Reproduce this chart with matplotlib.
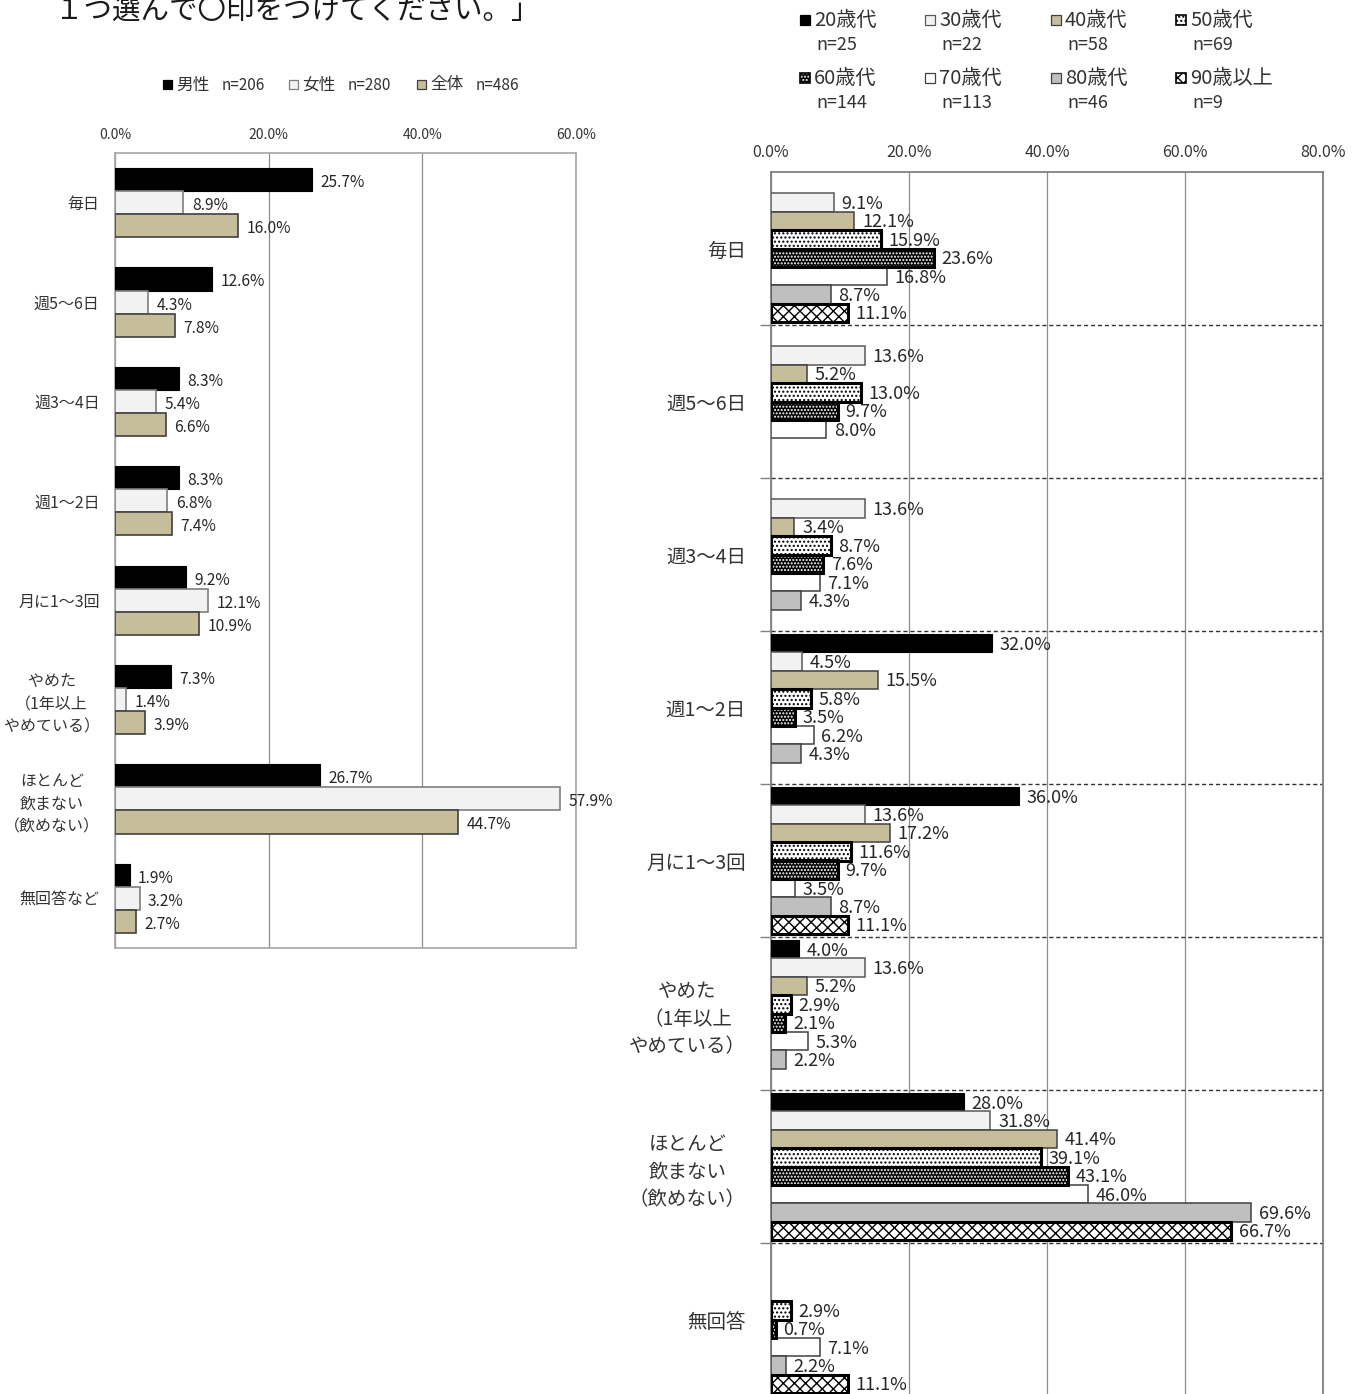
import numpy as np
import matplotlib
matplotlib.use("Agg")
import matplotlib.pyplot as plt
from matplotlib.patches import Rectangle

plt.rcParams['font.family'] = ['Noto Sans CJK JP', 'DejaVu Sans']
plt.rcParams['hatch.linewidth'] = 1.0

W, H, DPI = 1363, 1394, 100
nan = np.nan

title_text = "１つ選んで〇印をつけてください。」"

cats_left = ["毎日", "週5〜6日", "週3〜4日", "週1〜2日", "月に1〜3回",
             "やめた\n（1年以上\nやめている）", "ほとんど\n飲まない\n（飲めない）", "無回答など"]
cats_right = ["毎日", "週5〜6日", "週3〜4日", "週1〜2日", "月に1〜3回",
              "やめた\n（1年以上\nやめている）", "ほとんど\n飲まない\n（飲めない）", "無回答"]

gender_names = ["男性", "女性", "全体"]
gender_n = ["n=206", "n=280", "n=486"]
male = [25.7, 12.6, 8.3, 8.3, 9.2, 7.3, 26.7, 1.9]
female = [8.9, 4.3, 5.4, 6.8, 12.1, 1.4, 57.9, 3.2]
total = [16.0, 7.8, 6.6, 7.4, 10.9, 3.9, 44.7, 2.7]

age_names = ["20歳代", "30歳代", "40歳代", "50歳代", "60歳代", "70歳代", "80歳代", "90歳以上"]
age_n = ["n=25", "n=22", "n=58", "n=69", "n=144", "n=113", "n=46", "n=9"]
age20 = [nan, nan, nan, 32.0, 36.0, 4.0, 28.0, nan]
age30 = [9.1, 13.6, 13.6, 4.5, 13.6, 13.6, 31.8, nan]
age40 = [12.1, 5.2, 3.4, 15.5, 17.2, 5.2, 41.4, nan]
age50 = [15.9, 13.0, 8.7, 5.8, 11.6, 2.9, 39.1, 2.9]
age60 = [23.6, 9.7, 7.6, 3.5, 9.7, 2.1, 43.1, 0.7]
age70 = [16.8, 8.0, 7.1, 6.2, 3.5, 5.3, 46.0, 7.1]
age80 = [8.7, nan, 4.3, 4.3, 8.7, 2.2, 69.6, 2.2]
age90 = [11.1, nan, nan, nan, 11.1, nan, 66.7, 11.1]

left_ticks = [0, 20, 40, 60]
right_ticks = [0, 20, 40, 60, 80]

TAN = '#c6bd9a'
gender_styles = [
    dict(face='black', edge='black', lw=0.8, hatch=None, hcol=None, outline=None),
    dict(face='#f2f2f2', edge='#7f7f7f', lw=1.2, hatch=None, hcol=None, outline=None),
    dict(face=TAN, edge='#404040', lw=1.2, hatch=None, hcol=None, outline=None),
]
age_styles = [
    dict(face='black', edge='black', lw=0.8, hatch=None, hcol=None, outline=None),
    dict(face='#f2f2f2', edge='#595959', lw=1.1, hatch=None, hcol=None, outline=None),
    dict(face=TAN, edge='#404040', lw=1.1, hatch=None, hcol=None, outline=None),
    dict(face='white', edge='black', lw=2.2, hatch='....', hcol='black', outline='black'),
    dict(face='black', edge='black', lw=2.2, hatch='.....', hcol='white', outline='black'),
    dict(face='white', edge='#404040', lw=1.1, hatch=None, hcol=None, outline=None),
    dict(face='#bfbfbf', edge='#404040', lw=1.1, hatch=None, hcol=None, outline=None),
    dict(face='white', edge='black', lw=2.2, hatch='xxx', hcol='black', outline='black'),
]


def fx(x):
    return x / W


def fy(y):
    return 1 - y / H


def draw_bars(ax, ypos, vals, st, h):
    vals = np.asarray(vals, dtype=float)
    ok = np.isfinite(vals)
    yp = np.asarray(ypos)[ok]
    vv = vals[ok]
    if st['hatch'] is None:
        ax.barh(yp, vv, height=h, color=st['face'], edgecolor=st['edge'],
                linewidth=st['lw'], zorder=3)
    else:
        ax.barh(yp, vv, height=h, color=st['face'], edgecolor=st['hcol'],
                hatch=st['hatch'], linewidth=0, zorder=3)
        ax.barh(yp, vv, height=h, fill=False, edgecolor=st['outline'],
                linewidth=st['lw'], zorder=4)
    return yp, vv


fig = plt.figure(figsize=(W / DPI, H / DPI), dpi=DPI)

# ---------------- Left panel (gender) ----------------
axL = fig.add_axes([fx(115), fy(948), fx(576 - 115), (948 - 153) / H])
nL = len(cats_left)
yL = np.arange(nL)
bhL = 0.232
for i, (vals, st) in enumerate(zip([male, female, total], gender_styles)):
    off = (i - 1) * bhL
    yp, vv = draw_bars(axL, yL + off, vals, st, bhL)
    for yy, v in zip(yp, vv):
        axL.text(v + 1.1, yy + 0.03, f"{v:.1f}%", ha='left', va='center',
                 fontsize=11.2, color='#262626', zorder=5)
axL.set_xlim(0, 60)
axL.set_ylim(nL - 0.5, -0.5)
axL.xaxis.tick_top()
axL.set_xticks(left_ticks)
axL.set_xticklabels([f"{t:.1f}%" for t in left_ticks])
axL.tick_params(axis='x', length=0, pad=8, labelsize=10, labelcolor='#333333')
axL.set_yticks(yL)
axL.set_yticklabels(cats_left)
axL.tick_params(axis='y', length=0, pad=11, labelsize=11.5, labelcolor='#333333')
for lbl in axL.get_yticklabels():
    lbl.set_multialignment('center')
    lbl.set_linespacing(1.45)
axL.grid(axis='x', color='#8c8c8c', lw=0.9)
axL.set_axisbelow(True)
for s in axL.spines.values():
    s.set_color('#a6a6a6')
    s.set_linewidth(1.2)

# ---------------- Right panel (age) ----------------
axR = fig.add_axes([fx(771), fy(1396), fx(1323 - 771), (1396 - 172) / H])
nR = len(cats_right)
yR = np.arange(nR)
bhR = 0.12
ages = [age20, age30, age40, age50, age60, age70, age80, age90]
for i, (vals, st) in enumerate(zip(ages, age_styles)):
    off = (i - 3.5) * bhR
    yp, vv = draw_bars(axR, yR + off, vals, st, bhR)
    for yy, v in zip(yp, vv):
        axR.text(v + 1.1, yy + 0.01, f"{v:.1f}%", ha='left', va='center',
                 fontsize=13, color='#262626', zorder=5)
axR.set_xlim(0, 80)
axR.set_ylim(nR - 0.5, -0.5)
axR.xaxis.tick_top()
axR.set_xticks(right_ticks)
axR.set_xticklabels([f"{t:.1f}%" for t in right_ticks])
axR.tick_params(axis='x', length=0, pad=8, labelsize=11.5, labelcolor='#333333')
axR.set_yticks(yR)
axR.set_yticklabels(cats_right)
axR.tick_params(axis='y', which='major', length=0, pad=18, labelsize=14, labelcolor='#333333')
axR.set_yticks(np.arange(nR - 1) + 0.5, minor=True)
axR.tick_params(axis='y', which='minor', length=8, width=1, color='#808080')
for lbl in axR.get_yticklabels():
    lbl.set_multialignment('center')
    lbl.set_linespacing(1.4)
axR.grid(axis='x', which='major', color='#8c8c8c', lw=0.9)
axR.grid(axis='y', which='minor', color='#333333', lw=1.0, ls=(0, (3, 2)))
axR.grid(axis='y', which='major', visible=False)
axR.set_axisbelow(True)
for s in axR.spines.values():
    s.set_color('#808080')
    s.set_linewidth(1.3)

# ---------------- Title (cropped at top, as in the source) ----------------
fig.text(fx(55), fy(19), title_text, fontsize=20.5, va='baseline', ha='left', color='#1a1a1a')


# ---------------- Legends ----------------
def legend_square(x, y, size, st):
    if st['hatch'] is None:
        fig.add_artist(Rectangle((fx(x), fy(y + size)), size / W, size / H,
                                 transform=fig.transFigure, facecolor=st['face'],
                                 edgecolor=st['edge'] if st['face'] != 'black' else 'black',
                                 linewidth=0.9))
    else:
        fig.add_artist(Rectangle((fx(x), fy(y + size)), size / W, size / H,
                                 transform=fig.transFigure, facecolor=st['face'],
                                 edgecolor=st['hcol'], hatch=st['hatch'], linewidth=0))
        fig.add_artist(Rectangle((fx(x), fy(y + size)), size / W, size / H,
                                 transform=fig.transFigure, fill=False,
                                 edgecolor=st['outline'], linewidth=1.2))


left_leg_x = [163, 289, 417]
for name, nn, st, x0 in zip(gender_names, gender_n, gender_styles, left_leg_x):
    legend_square(x0, 80, 9, st)
    fig.text(fx(x0 + 13), fy(85), name, fontsize=12, va='center', ha='left', color='#333333')
    fig.text(fx(x0 + 59), fy(85), nn, fontsize=11, va='center', ha='left', color='#333333')

right_leg_x = [800, 925, 1051, 1176]
right_leg_y = [20, 78]
for k, (name, nn, st) in enumerate(zip(age_names, age_n, age_styles)):
    col = k % 4
    row = k // 4
    x0 = right_leg_x[col]
    y0 = right_leg_y[row]
    legend_square(x0, y0 - 5, 10, st)
    fig.text(fx(x0 + 14), fy(y0), name, fontsize=14.5, va='center', ha='left', color='#333333')
    fig.text(fx(x0 + 16), fy(y0 + 25), nn, fontsize=13, va='center', ha='left', color='#333333')

fig.savefig("out.png", dpi=DPI, facecolor='white')
